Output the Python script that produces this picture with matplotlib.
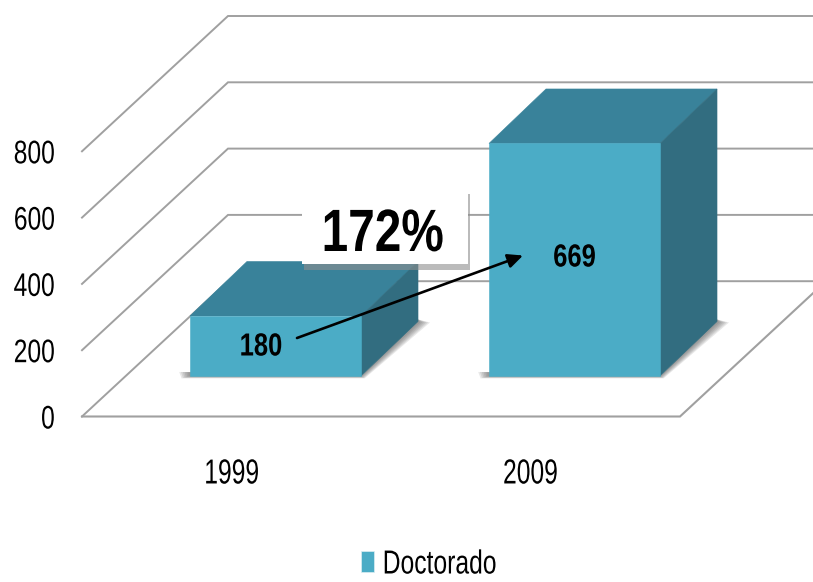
import matplotlib
matplotlib.use("Agg")
import matplotlib.pyplot as plt
from matplotlib.patches import Polygon, Rectangle, Patch
from matplotlib.patheffects import AbstractPathEffect
from matplotlib.transforms import Affine2D

years = ["1999", "2009"]
doctorado = [180, 669]
value_ticks = [0, 200, 400, 600, 800]
series_name = "Doctorado"
growth_label = "172%"

W, H, DPI = 813, 582, 100
FRONT, TOP, SIDE = "#4BACC6", "#39829A", "#326D80"
GRID = "#A0A0A0"
plt.rcParams["font.family"] = ["Liberation Sans", "DejaVu Sans"]


class Condense(AbstractPathEffect):
    """Squeeze a real text object horizontally about its left/centre/right."""

    def __init__(self, sx, align=0.5):
        super().__init__()
        self.sx, self.align = sx, align

    def draw_path(self, renderer, gc, tpath, affine, rgbFace=None):
        box = tpath.get_extents(affine)
        cx = box.x0 + self.align * box.width
        squeeze = Affine2D().translate(-cx, 0).scale(self.sx, 1).translate(cx, 0)
        renderer.draw_path(gc, tpath, affine + squeeze, rgbFace)


fig = plt.figure(figsize=(W / DPI, H / DPI), dpi=DPI, facecolor="white")
# PX: pixel coordinates measured from the top-left of the picture
PX = Affine2D().scale(1, -1).translate(0, H)

# Plot box of the front plane: x 82..680, y 416.5 (0) .. 151.3 (800)
ax = fig.add_axes([82 / W, 1 - 416.5 / H, 598 / W, 265.2 / H])
ax.set_xlim(-0.5, 1.5)
ax.set_ylim(0, 800)
ax.set_facecolor("none")
for s in ax.spines.values():
    s.set_visible(False)
ax.set_yticks(value_ticks, [str(v) for v in value_ticks])
ax.set_xticks(range(len(years)), years)
ax.tick_params(axis="y", length=0, pad=19.4, labelsize=23.5)
ax.tick_params(axis="x", length=0, pad=29.5, labelsize=25)
for lab in ax.get_yticklabels():
    lab.set_path_effects([Condense(0.755, 1.0)])
for lab in ax.get_xticklabels():
    lab.set_path_effects([Condense(0.71, 0.5)])

# Bars sit on their own value scale (0 at y=379.5, 0.3528 px per unit)
axb = ax.twinx()
axb.set_ylim((379.5 - 416.5) / 0.3528, (379.5 - 151.3) / 0.3528)
axb.set_yticks([])
for s in axb.spines.values():
    s.set_visible(False)
axb.set_facecolor("none")


def project(a, x, v, dx=0.0, dy=0.0):
    """Data point on axes a -> pixel position, moved by (dx, dy) pixels."""
    px, py = a.transData.transform((x, v))
    return px + dx, H - py + dy


# Walls and floor
GRID_DX, GRID_DY = 146, -135.3
for v in value_ticks:
    p0 = project(ax, -0.5, v)
    p1 = project(ax, -0.5, v, GRID_DX, GRID_DY)
    p2 = project(ax, 1.5, v, GRID_DX, GRID_DY)
    ax.plot(*zip(p0, p1, p2), color=GRID, lw=1.4, transform=PX, clip_on=False,
            solid_joinstyle="miter", zorder=1)
q0 = project(ax, -0.5, 0)
q1 = project(ax, 1.5, 0)
q2 = project(ax, 1.5, 0, GRID_DX, GRID_DY)
ax.plot(*zip(q0, q1, q2), color=GRID, lw=1.5, transform=PX, clip_on=False,
        solid_joinstyle="miter", zorder=1)

# Bars
BAR_BOTTOM = 10          # the floor of the bars on their scale
BAR_W = 0.572
CENTER_SHIFT = 44        # px to the right of the category centre
BAR_DX, BAR_DY = 57, -54.5
for i, val in enumerate(doctorado):
    xl, xr = i - BAR_W / 2, i + BAR_W / 2
    fl = project(axb, xl, BAR_BOTTOM, CENTER_SHIFT)
    fr = project(axb, xr, BAR_BOTTOM, CENTER_SHIFT)
    tl = project(axb, xl, val, CENTER_SHIFT)
    tr = project(axb, xr, val, CENTER_SHIFT)
    btl = (tl[0] + BAR_DX, tl[1] + BAR_DY)
    btr = (tr[0] + BAR_DX, tr[1] + BAR_DY)
    bbr = (fr[0] + BAR_DX, fr[1] + BAR_DY)
    # soft floor shadow
    for e in range(1, 7):
        axb.add_patch(Polygon(
            [(fl[0] - e * 1.8, fl[1] - 4), (fl[0] - e * 1.4, fl[1] + e * 0.4),
             (fr[0] + e * 0.6, fr[1] + e * 0.4),
             (bbr[0] + e * 2.0, bbr[1] + 1), (bbr[0], bbr[1] - 2), fr],
            closed=True, facecolor="#505050", edgecolor="none", alpha=0.13,
            transform=PX, clip_on=False, zorder=2))
    axb.add_patch(Polygon([tl, tr, btr, btl], closed=True, facecolor=TOP,
                          edgecolor=TOP, lw=0.4, transform=PX, clip_on=False, zorder=3))
    axb.add_patch(Polygon([fr, bbr, btr, tr], closed=True, facecolor=SIDE,
                          edgecolor=SIDE, lw=0.4, transform=PX, clip_on=False, zorder=3))
    axb.add_patch(Polygon([fl, fr, tr, tl], closed=True, facecolor=FRONT,
                          edgecolor=FRONT, lw=0.4, transform=PX, clip_on=False, zorder=4))

# Callout box
axb.add_patch(Rectangle((304, 194), 166, 75.5, facecolor="#8F8F8F", alpha=0.6,
                        edgecolor="none", transform=PX, clip_on=False, zorder=5))
axb.add_patch(Rectangle((302, 191), 166, 73, facecolor="white", edgecolor="none",
                        transform=PX, clip_on=False, zorder=6))
t = axb.text(382.5, 229.5, growth_label, transform=PX, fontsize=43, fontweight="bold",
             ha="center", va="center_baseline", color="black", zorder=7, clip_on=False)
t.set_path_effects([Condense(0.80, 0.5)])

# Data labels and growth arrow
label_pos = [(261, 344), (574.5, 255)]
for val, (lx, ly) in zip(doctorado, label_pos):
    t = axb.text(lx, ly, str(val), transform=PX, fontsize=23, fontweight="bold",
                 ha="center", va="center_baseline", color="black", zorder=7, clip_on=False)
    t.set_path_effects([Condense(0.80, 0.5)])
axb.annotate("", xy=(523, 255.5), xytext=(297, 338), xycoords=PX, textcoords=PX,
             arrowprops=dict(arrowstyle="-|>,head_length=0.9,head_width=0.42",
                             color="black", lw=1.9, shrinkA=0, shrinkB=0), zorder=7)

# Legend
leg = fig.legend(handles=[Patch(facecolor=FRONT, edgecolor="#DDEEF3", lw=0.5, label=series_name)],
                 loc="center left", bbox_to_anchor=(361 / W, 1 - 565 / H), frameon=False,
                 fontsize=24, handlelength=0.39, handleheight=0.57, handletextpad=0.24,
                 borderpad=0, borderaxespad=0)
for lab in leg.get_texts():
    lab.set_path_effects([Condense(0.74, 0.0)])

fig.savefig("out.png", dpi=DPI, facecolor="white")
